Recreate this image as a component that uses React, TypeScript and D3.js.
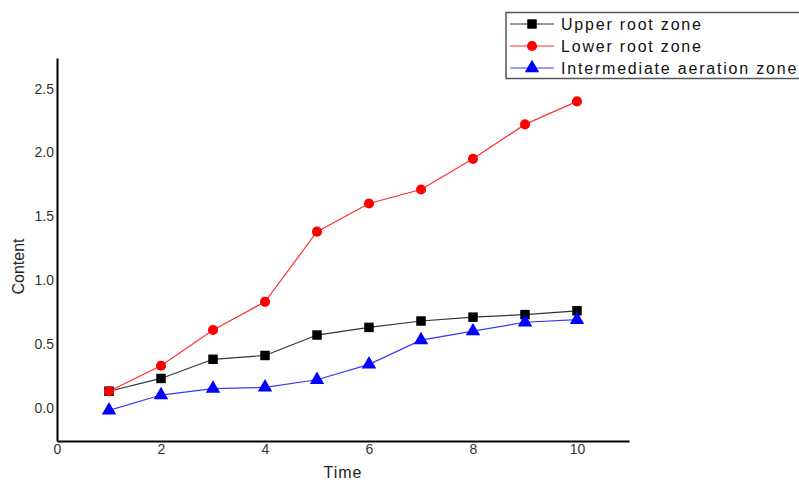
import { useEffect, useRef } from "react";
import * as d3 from "d3";

const times = [1, 2, 3, 4, 5, 6, 7, 8, 9, 10];
const upperRoot = [0.13, 0.23, 0.38, 0.41, 0.57, 0.63, 0.68, 0.71, 0.73, 0.76];
const lowerRoot = [0.13, 0.33, 0.61, 0.83, 1.38, 1.6, 1.71, 1.95, 2.22, 2.4];
const intermediate = [-0.02, 0.1, 0.15, 0.16, 0.22, 0.34, 0.53, 0.6, 0.67, 0.69];
const xTicks = [0, 2, 4, 6, 8, 10];
const yTicks = [0, 0.5, 1, 1.5, 2, 2.5];

const series = [
  { name: "Upper root zone", values: upperRoot, color: "#000000", line: "#333333", shape: "square" },
  { name: "Lower root zone", values: lowerRoot, color: "#ff0000", line: "#ff3030", shape: "circle" },
  { name: "Intermediate aeration zone", values: intermediate, color: "#0000ff", line: "#3838ff", shape: "triangle" },
];

const W = 799,
  H = 480;
const margin = { top: 58, right: 170, bottom: 39, left: 57 };

const App = () => {
  const ref = useRef<SVGSVGElement>(null);

  useEffect(() => {
    const svg = d3.select(ref.current);
    svg.selectAll("*").remove();
    const font = "'Liberation Sans', Arial, sans-serif";

    const x = d3.scaleLinear().domain([0, 11]).range([margin.left, W - margin.right]);
    const y = d3.scaleLinear().domain([-0.26, 2.74]).range([H - margin.bottom, margin.top]);

    // axes (no tick marks, just the lines)
    const xAxis = svg
      .append("g")
      .attr("transform", `translate(0,${H - margin.bottom})`)
      .call(d3.axisBottom(x).tickValues(xTicks).tickSize(0).tickPadding(3).tickFormat(d3.format("d")));
    xAxis.select(".domain").attr("stroke", "#000").attr("stroke-width", 2);
    xAxis.selectAll("text").attr("font-family", font).attr("font-size", 14).attr("fill", "#333");

    const yAxis = svg
      .append("g")
      .attr("transform", `translate(${margin.left},0)`)
      .call(d3.axisLeft(y).tickValues(yTicks).tickSize(0).tickPadding(3).tickFormat(d3.format(".1f")));
    yAxis.select(".domain").attr("stroke", "#000").attr("stroke-width", 2);
    yAxis.selectAll("text").attr("font-family", font).attr("font-size", 14).attr("fill", "#333");

    svg
      .append("text")
      .attr("x", (margin.left + W - margin.right) / 2)
      .attr("y", 478)
      .attr("text-anchor", "middle")
      .attr("font-family", font)
      .attr("font-size", 16)
      .attr("letter-spacing", 1)
      .attr("fill", "#222")
      .text("Time");

    svg
      .append("text")
      .attr("transform", `translate(24,${(margin.top + H - margin.bottom) / 2 + 17}) rotate(-90)`)
      .attr("text-anchor", "middle")
      .attr("font-family", font)
      .attr("font-size", 16)
      .attr("fill", "#222")
      .text("Content");

    const symbolFor = (shape: string) =>
      shape === "square"
        ? d3.symbol(d3.symbolSquare, 90)
        : shape === "circle"
        ? d3.symbol(d3.symbolCircle, 80)
        : d3.symbol(d3.symbolTriangle, 90);

    const line = d3
      .line<number>()
      .x((_, i) => x(times[i]))
      .y((d) => y(d));

    series.forEach((s) => {
      svg
        .append("path")
        .datum(s.values)
        .attr("d", line)
        .attr("fill", "none")
        .attr("stroke", s.line)
        .attr("stroke-width", 1.2);
    });

    series.forEach((s) => {
      svg
        .append("g")
        .selectAll("path")
        .data(s.values)
        .enter()
        .append("path")
        .attr("d", symbolFor(s.shape)())
        .attr("transform", (d, i) => `translate(${x(times[i])},${y(d)})`)
        .attr("fill", s.color);
    });

    // legend
    const lg = svg.append("g");
    lg.append("rect")
      .attr("x", 506)
      .attr("y", 12.5)
      .attr("width", 300)
      .attr("height", 66)
      .attr("fill", "#fff")
      .attr("stroke", "#555")
      .attr("stroke-width", 1.5);
    series.forEach((s, i) => {
      const cy = 24 + i * 22;
      lg.append("line")
        .attr("x1", 510)
        .attr("x2", 554)
        .attr("y1", cy)
        .attr("y2", cy)
        .attr("stroke", s.line)
        .attr("stroke-width", 1.2);
      lg.append("path")
        .attr("d", symbolFor(s.shape)())
        .attr("transform", `translate(532,${cy})`)
        .attr("fill", s.color);
      lg.append("text")
        .attr("x", 561)
        .attr("y", cy + 6)
        .attr("font-family", font)
        .attr("font-size", 16)
        .attr("letter-spacing", 1.8)
        .attr("fill", "#111")
        .text(s.name);
    });
  }, []);

  return (
    <svg
      ref={ref}
      width={W}
      height={H}
      style={{ position: "absolute", left: 0, top: 0, background: "#fff" }}
    ></svg>
  );
};

export default App;
